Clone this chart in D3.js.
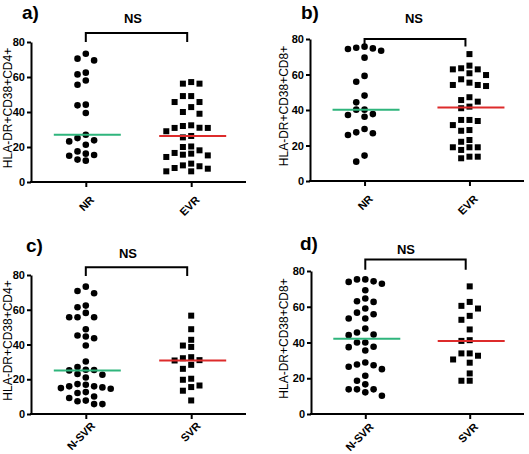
<!DOCTYPE html>
<html>
<head>
<meta charset="utf-8">
<script src="https://cdn.jsdelivr.net/npm/d3@7"></script>
<style>
  body { margin: 0; background: #fff; }
  svg { display: block; }
  text { font-family: Arial, "Liberation Sans", sans-serif; }
</style>
</head>
<body>
<svg id="chart" width="529" height="454"></svg>
<script>
// ---------- DATA ----------
const panelLabels = ["a)", "b)", "c)", "d)"];
const yTitles = ["HLA-DR+CD38+CD4+", "HLA-DR+CD38+CD8+", "HLA-DR+CD38+CD4+", "HLA-DR+CD38+CD8+"];
const catsTop = ["NR", "EVR"];
const catsBottom = ["N-SVR", "SVR"];
const yTicks = [0, 20, 40, 60, 80];
const sigLabel = "NS";

const aNR  = [73.3, 69.5, 70.5, 62.5, 61.5, 58, 55.6, 43.8, 44.2, 39.4, 27, 25.1, 23.2, 23.8, 21.3, 16.2, 17.5, 15, 15.4, 12.2, 12.8];
const aEVR = [56.2, 56.2, 57.1, 49.1, 49.1, 45.7, 45.7, 42.8, 40, 39, 30.9, 32, 31, 30.9, 29, 32.4, 26.3, 25.5, 20, 20.3, 18.1, 16.2, 15.2, 14.3, 15.6, 16.6, 10.5, 9, 7.6, 6.1, 6.1, 8, 9.5];
const bNR  = [75.1, 73.4, 74.4, 74.7, 75.7, 69.5, 55.9, 59.2, 48.1, 44.3, 40.2, 40.2, 37.7, 36.2, 37.2, 29.3, 26.9, 25.9, 27.4, 10.9, 14.3];
const bEVR = [71.5, 62.9, 65, 62.9, 63.5, 60.7, 59.7, 57.3, 54.1, 53.5, 54.1, 55.4, 47.2, 44.7, 45.6, 41, 41.9, 34.4, 31.5, 33.8, 34.4, 28.3, 28.7, 22.1, 23.1, 19, 19, 19, 17.5, 13.7, 12.8, 13.7];
const cNSVR = [73.3, 70.8, 69.5, 62.4, 61.4, 58.2, 55.7, 55.7, 55.7, 48.8, 45.2, 44.6, 43.6, 39.4, 30.2, 27, 25.5, 25.3, 25.1, 23, 22.6, 21, 17.2, 16.8, 15.9, 15.9, 15.3, 14.9, 14.5, 12.6, 12.1, 10.1, 9.2, 7.7, 7.3, 5.7, 5.7];
const cSVR = [56.6, 48.8, 42.7, 39.4, 38.6, 31.0, 28.3, 32.1, 32.7, 30.8, 26, 19.7, 20.3, 16.4, 15.5, 13.4, 7.8];
const dNSVR = [75.3, 74.2, 72.9, 73.9, 75.3, 69.2, 63.1, 64.6, 62.7, 59, 56.7, 53.4, 53.4, 55.8, 47.8, 45.6, 44.1, 44.5, 40, 40, 37.4, 35.5, 37.6, 28.8, 27.3, 25.1, 26.4, 27.7, 18.6, 21.4, 16.6, 13.8, 13.8, 10.2, 12.1, 13.8];
const dSVR = [71.4, 62.7, 60.5, 59, 54.9, 52.7, 47.3, 41.3, 40.9, 33.9, 33.9, 32.6, 30.5, 28.7, 22.7, 18.6, 18.6];

// ---------- LAYOUT ----------
const panels = [
  { label: panelLabels[0], title: yTitles[0], cats: catsTop,    groups: [aNR, aEVR],    box: {l: 31,  r: 246, t: 42,  b: 182}, lab: [22, 19],  ns: [133, 23],  br: [85.1, 80], titleDx: -19, xlab: [3, 13] },
  { label: panelLabels[1], title: yTitles[1], cats: catsTop,    groups: [bNR, bEVR],    box: {l: 310, r: 524, t: 39,  b: 181}, lab: [301, 19], ns: [414, 23],  br: [80, 75.8], titleDx: -22, xlab: [3, 13] },
  { label: panelLabels[2], title: yTitles[2], cats: catsBottom, groups: [cNSVR, cSVR],  box: {l: 31,  r: 246, t: 275, b: 414}, lab: [26, 252], ns: [128, 258], br: [84.4, 79.4], titleDx: -19.5, xlab: [4, 7] },
  { label: panelLabels[3], title: yTitles[3], cats: catsBottom, groups: [dNSVR, dSVR],  box: {l: 311, r: 524, t: 271, b: 414}, lab: [300, 250], ns: [406, 254], br: [86.5, 80.7], titleDx: -23, xlab: [3, 8] }
];

const medianColors = ["#2fb57c", "#dd2b2b"];
const svg = d3.select("#chart");
const STEP = 8.3, DIAM = 6.9;

function swarm(values, y) {
  // greedy column layout: prefer the centre, then alternate sides
  const sorted = values.map((v, i) => ({v, i})).sort((a, b) => b.v - a.v);
  const placed = [];
  const order = [0, -1, 1, -2, 2, -3, 3, -4, 4, -5, 5];
  sorted.forEach(p => {
    const py = y(p.v);
    for (const k of order) {
      const clash = placed.some(q => q.k === k && Math.abs(q.py - py) < DIAM);
      if (!clash) { placed.push({v: p.v, py, k}); break; }
    }
  });
  return placed;
}

panels.forEach(P => {
  const g = svg.append("g");
  const y = d3.scaleLinear().domain([0, 80]).range([P.box.b, P.box.t]);
  const x = d3.scalePoint().domain(P.cats).range([P.box.l, P.box.r]).padding(0.52);

  // Y axis
  const yAx = g.append("g").attr("transform", `translate(${P.box.l},0)`)
    .call(d3.axisLeft(y).tickValues(yTicks).tickSize(4).tickPadding(2).tickSizeOuter(0));
  yAx.select(".domain").attr("stroke", "#000").attr("stroke-width", 2);
  yAx.selectAll(".tick line").attr("stroke", "#000").attr("stroke-width", 2);
  yAx.selectAll(".tick text").attr("font-size", 11).attr("font-weight", "bold").attr("fill", "#000")
    .attr("font-family", "Arial, 'Liberation Sans', sans-serif");

  // X axis
  const xAx = g.append("g").attr("transform", `translate(0,${P.box.b})`)
    .call(d3.axisBottom(x).tickSize(5).tickSizeOuter(0));
  xAx.select(".domain").attr("stroke", "#000").attr("stroke-width", 2)
    .attr("d", `M${P.box.l - 1},0H${P.box.r}`);
  xAx.selectAll(".tick line").attr("stroke", "#000").attr("stroke-width", 2);
  xAx.selectAll(".tick text")
    .attr("font-size", 11).attr("font-weight", "bold").attr("fill", "#000")
    .attr("font-family", "Arial, 'Liberation Sans', sans-serif")
    .attr("text-anchor", "end").attr("y", 0).attr("dy", "0.72em")
    .attr("transform", `translate(${P.xlab[0]},${P.xlab[1]}) rotate(-45)`);

  // Y title
  g.append("text")
    .attr("transform", `translate(${P.box.l + P.titleDx},${(P.box.t + P.box.b) / 2 - 4}) rotate(-90)`)
    .attr("text-anchor", "middle").attr("font-size", 12).attr("fill", "#000")
    .text(P.title);

  // Panel label
  g.append("text").attr("x", P.lab[0]).attr("y", P.lab[1])
    .attr("font-size", 19).attr("font-weight", "bold").attr("fill", "#000").text(P.label);

  // Bracket + NS
  const x0 = x(P.cats[0]), x1 = x(P.cats[1]);
  g.append("path")
    .attr("d", `M${x0},${y(P.br[1])}V${y(P.br[0])}H${x1 - 4}V${y(P.br[1])}`)
    .attr("fill", "none").attr("stroke", "#000").attr("stroke-width", 2);
  g.append("text").attr("x", P.ns[0]).attr("y", P.ns[1]).attr("text-anchor", "middle")
    .attr("font-size", 13).attr("font-weight", "bold").attr("fill", "#000").text(sigLabel);

  // Points
  P.groups.forEach((vals, gi) => {
    const cx = x(P.cats[gi]);
    const pts = swarm(vals, y);
    if (gi === 0) {
      g.selectAll(null).data(pts).enter().append("circle")
        .attr("cx", d => cx + d.k * STEP).attr("cy", d => d.py).attr("r", 3.3).attr("fill", "#000");
    } else {
      g.selectAll(null).data(pts).enter().append("rect")
        .attr("x", d => cx + d.k * STEP - 3).attr("y", d => d.py - 3)
        .attr("width", 6).attr("height", 6).attr("fill", "#000");
    }
    const med = d3.median(vals);
    g.append("line")
      .attr("x1", cx - 32).attr("x2", cx + 35)
      .attr("y1", y(med)).attr("y2", y(med))
      .attr("stroke", medianColors[gi]).attr("stroke-width", 2);
  });
});
</script>
</body>
</html>
